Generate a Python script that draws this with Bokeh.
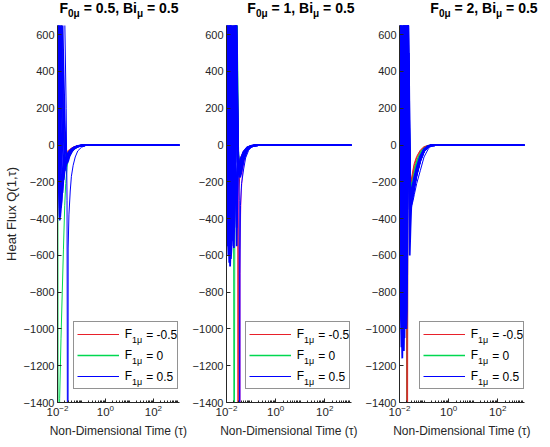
from bokeh.plotting import figure
from bokeh.layouts import row, column
from bokeh.models import (Range1d, FixedTicker, Label, Div, Spacer, Legend, LegendItem, BoxAnnotation)
from bokeh.embed import file_html
from bokeh.resources import INLINE

# ---------------- data ----------------
X_RANGE = (0.01, 1230)
Y_RANGE = (-1400, 650)
Y_TICKS = [-1400, -1200, -1000, -800, -600, -400, -200, 0, 200, 400, 600]
X_TICKS = [0.01, 1, 100]
F0_VALUES = ["0.5", "1", "2"]
BI_VALUE = "0.5"
F1_LABELS = ["-0.5", "0", "0.5"]

# ---- panel 1 : F0 = 0.5
P1_X = [0.01, 0.011, 0.012, 0.0125, 0.013, 0.014, 0.015, 0.016, 0.018, 0.02, 0.022, 0.025,
        0.028, 0.032, 0.04, 0.05, 0.07, 0.1, 0.15, 0.2, 0.3, 1, 1230]
P1_BLUE = [
    [800, -150, -380, -410, -360, -280, -220, -175, -120, -90, -70, -52, -42, -32, -20, -12, -5, -2, -0.6, -0.2, 0, 0, 0],
    [1400, 200, -250, -340, -390, -330, -260, -200, -135, -100, -78, -58, -46, -35, -22, -13, -5.5, -2.2, -0.7, -0.2, 0, 0, 0],
    [2000, 600, 50, -100, -230, -340, -300, -240, -150, -110, -85, -63, -50, -38, -23, -14, -6, -2.4, -0.7, -0.2, 0, 0, 0],
    [2600, 1000, 400, 200, 50, -150, -250, -260, -170, -120, -92, -68, -54, -40, -25, -15, -6.5, -2.6, -0.8, -0.2, 0, 0, 0],
    [3200, 1500, 800, 550, 350, 80, -80, -170, -190, -135, -100, -73, -57, -43, -26, -16, -7, -2.8, -0.8, -0.2, 0, 0, 0],
    [3800, 2000, 1200, 950, 750, 420, 200, 40, -130, -140, -110, -80, -62, -46, -28, -17, -7.5, -3, -0.9, -0.3, 0, 0, 0],
    [4400, 2600, 1700, 1400, 1150, 800, 550, 350, 60, -80, -115, -90, -70, -50, -30, -18, -8, -3.2, -0.9, -0.3, 0, 0, 0],
    [5000, 3200, 2300, 1900, 1600, 1200, 900, 700, 380, 130, -30, -100, -85, -60, -35, -20, -9, -3.5, -1, -0.3, 0, 0, 0],
]
P1_RED = [
    [4500, 2800, 1900, 1600, 1350, 950, 650, 450, 150, 10, -25, -35, -30, -24, -15, -9, -4, -1.5, -0.5, -0.1, 0, 0, 0],
    [3500, 2200, 1500, 1250, 1050, 700, 450, 280, 50, -30, -45, -42, -35, -27, -17, -10, -4.5, -1.7, -0.5, -0.1, 0, 0, 0],
]
P1_GREEN = [
    [4000, 2400, 1600, 1300, 1100, 750, 500, 300, 60, -40, -60, -65, -58, -46, -30, -18, -8, -3.2, -1, -0.3, 0, 0, 0],
]
P1_GREEN_DEEP_X = [0.01, 0.0103, 0.0107, 0.011, 0.0123, 0.014, 0.0158, 0.0177, 0.02, 0.022, 0.025, 0.028,
                   0.032, 0.04, 0.05, 0.07, 0.1, 0.15, 0.2, 0.3, 1230]
P1_GREEN_DEEP_Y = [1500, 200, -2500, -2300, -1380, -1050, -800, -566, -330, -210, -120, -80,
                   -60, -38, -24, -10, -4, -1, -0.3, 0, 0]
P1_BLUE_DEEP_X = [0.01, 0.015, 0.02, 0.023, 0.025, 0.0265, 0.0272, 0.0278, 0.03, 0.034, 0.038, 0.045,
                  0.055, 0.07, 0.1, 0.15, 0.2, 0.3, 1230]
P1_BLUE_DEEP_Y = [6000, 2000, 700, 200, -300, -2500, -3000, -560, -380, -250, -170, -110,
                  -65, -32, -12, -3, -1, 0, 0]

# ---- panel 2 : F0 = 1
P2_X = [0.01, 0.011, 0.012, 0.013, 0.014, 0.015, 0.016, 0.018, 0.02, 0.022, 0.024, 0.026,
        0.028, 0.03, 0.033, 0.036, 0.04, 0.05, 0.07, 0.1, 0.15, 0.2, 0.3, 1230]
P2_BLUE = [
    [1200, -450, -600, -300, 300, 900, 1300, 1500, 1200, 800, 450, 120, -90, -110, -100, -85, -65, -35, -13, -4.5, -1.2, -0.3, 0, 0],
    [2000, 300, -450, -640, -500, 100, 700, 1300, 1300, 900, 550, 180, -60, -120, -115, -95, -72, -38, -14, -5, -1.3, -0.3, 0, 0],
    [2800, 1000, 100, -400, -660, -520, -100, 800, 1200, 1000, 650, 250, -20, -130, -125, -105, -80, -42, -15, -5, -1.4, -0.3, 0, 0],
    [3500, 1800, 700, 100, -350, -620, -560, 200, 1000, 1050, 750, 320, 20, -140, -140, -115, -88, -46, -17, -6, -1.5, -0.4, 0, 0],
    [4200, 2500, 1400, 700, 150, -300, -550, -450, 500, 1000, 850, 400, 60, -120, -150, -125, -95, -50, -18, -6, -1.6, -0.4, 0, 0],
    [5000, 3200, 2000, 1300, 700, 200, -150, -520, -300, 600, 900, 500, 150, -90, -150, -135, -100, -53, -19, -6.5, -1.7, -0.4, 0, 0],
    [900, -550, -200, 500, 1100, 1500, 1600, 1500, 1300, 1000, 700, 350, 80, -100, -145, -130, -100, -52, -19, -6.5, -1.7, -0.4, 0, 0],
    [6000, 4000, 2800, 2000, 1400, 800, 400, -200, -560, -100, 800, 600, 250, -40, -170, -175, -150, -80, -28, -9, -2.3, -0.6, 0, 0],
    [5500, 3600, 2400, 1700, 1100, 600, 200, -100, 300, 900, -200, -550, -200, -60, -160, -165, -140, -75, -26, -8.5, -2.2, -0.5, 0, 0],
    [700, 100, 900, 1500, 1200, 400, -300, -500, -200, 300, -300, -450, -150, -70, -150, -155, -130, -70, -24, -8, -2, -0.5, 0, 0],
]
P2_RED = [
    [4000, 2600, 1800, 1300, 900, 600, 400, 600, 1000, 1100, 950, 700, 300, -40, -80, -75, -60, -32, -12, -4, -1, -0.3, 0, 0],
]
P2_GREEN = [
    [3600, 2300, 1500, 1000, 600, 300, 150, 500, 950, 1150, 1050, 850, 450, -20, -100, -90, -72, -38, -14, -4.5, -1.2, -0.3, 0, 0],
]
P2_GREEN_DEEP_X = [0.01, 0.014, 0.017, 0.019, 0.02, 0.0205, 0.021, 0.0225, 0.025, 0.0275, 0.03, 0.033,
                   0.04, 0.05, 0.07, 0.1, 0.15, 0.2, 0.3, 1230]
P2_GREEN_DEEP_Y = [3000, 1800, 1000, 400, -1500, -3000, -1500, 400, 900, 650, -80, -120,
                   -95, -52, -19, -6.5, -1.7, -0.4, 0, 0]
P2_RED_DEEP_X = [0.01, 0.016, 0.02, 0.024, 0.027, 0.0288, 0.0294, 0.0299, 0.0305, 0.032, 0.035, 0.04,
                 0.05, 0.07, 0.1, 0.15, 0.2, 0.3, 1230]
P2_RED_DEEP_Y = [5000, 2500, 1300, 800, 400, -500, -3000, -2500, -500, -250, -160, -100,
                 -50, -18, -6, -1.5, -0.4, 0, 0]
P2_MAGENTA_X = [0.01, 0.016, 0.02, 0.024, 0.027, 0.03, 0.0335, 0.0352, 0.036, 0.0375, 0.04, 0.045,
                0.05, 0.06, 0.08, 0.1, 0.15, 0.2, 0.3, 1230]
P2_MAGENTA_Y = [5500, 2800, 1400, 800, 250, -100, -700, -1800, -566, -380, -250, -150,
                -100, -55, -22, -10, -2.5, -0.7, 0, 0]
P2_BLUE_DEEP_X = [0.01, 0.016, 0.02, 0.024, 0.028, 0.031, 0.033, 0.034, 0.0345, 0.0352, 0.037, 0.041,
                  0.05, 0.06, 0.08, 0.1, 0.15, 0.2, 0.3, 1230]
P2_BLUE_DEEP_Y = [6000, 3000, 1500, 900, 300, -50, -300, -2500, -3000, -700, -330, -210,
                  -130, -70, -28, -13, -3, -0.8, 0, 0]

# ---- panel 3 : F0 = 2
P3_X = [0.01, 0.011, 0.012, 0.013, 0.014, 0.015, 0.016, 0.017, 0.018, 0.019, 0.02, 0.022, 0.024,
        0.026, 0.028, 0.03, 0.033, 0.036, 0.04, 0.05, 0.07, 0.1, 0.15, 0.2, 0.3, 1230]
P3_BLUE = [
    [1000, -800, -1100, -600, 300, 1200, 1600, 1700, 1500, 1200, 900, 400, 0, -200, -250, -250, -230, -205, -175, -120, -60, -22, -5, -1.2, -0.1, 0],
    [1800, 0, -900, -1160, -700, 200, 1000, 1500, 1600, 1400, 1100, 500, 80, -180, -260, -265, -245, -220, -185, -128, -65, -24, -5.5, -1.3, -0.1, 0],
    [2600, 900, -200, -800, -1100, -900, -100, 800, 1300, 1400, 1200, 600, 150, -160, -265, -275, -255, -230, -195, -135, -70, -26, -6, -1.4, -0.1, 0],
    [3400, 1700, 500, -200, -700, -1000, -1050, -500, 400, 1000, 1200, 700, 220, -140, -270, -285, -265, -240, -205, -142, -74, -28, -6.5, -1.5, -0.1, 0],
    [4200, 2500, 1300, 500, -100, -600, -900, -1000, -700, 100, 800, 750, 280, -120, -280, -295, -275, -250, -215, -150, -80, -30, -7, -1.6, -0.1, 0],
    [800, 400, 1500, 1900, 2000, 1700, 1200, 600, 0, -500, -600, 200, 400, -50, -290, -300, -280, -255, -220, -155, -82, -31, -7.5, -1.7, -0.1, 0],
    [6000, 4000, 2800, 2000, 1300, 700, 200, -300, -700, -1000, -900, -100, 500, 0, -280, -300, -280, -255, -220, -155, -82, -31, -7.5, -1.7, -0.1, 0],
    [5500, 3600, 2400, 1600, 1000, 500, 0, -400, -800, -700, -100, 900, 300, -600, -450, -340, -300, -270, -235, -165, -88, -33, -8, -1.8, -0.1, 0],
    [300, -500, -950, -1000, -850, -300, 500, 1300, 1700, 1500, 1000, 300, -200, -350, -330, -300, -280, -255, -220, -155, -82, -31, -7.5, -1.7, -0.1, 0],
    [2200, 1200, 300, -300, -900, -1120, -800, -200, 600, 1300, 1300, 800, 350, -250, -320, -310, -285, -260, -225, -158, -84, -32, -7.7, -1.7, -0.1, 0],
]
P3_BLUE_OUTER = [5000, 3300, 2100, 1200, 600, 0, -400, -750, -950, -850, -300, 700, 330, -100, -300, -330, -320, -300, -270, -210, -140, -65, -20, -5, -0.5, 0]
P3_RED = [
    [4500, 3000, 2000, 1400, 900, 500, 200, 600, 1000, 1200, 1100, 700, 250, -80, -200, -190, -160, -130, -100, -62, -28, -9, -2, -0.5, 0, 0],
]
P3_GREEN = [
    [4000, 2600, 1700, 1100, 700, 300, 100, 500, 900, 1100, 1050, 750, 300, -60, -220, -225, -195, -165, -135, -90, -42, -14, -3, -0.7, 0, 0],
    [400, -750, -400, 300, 1000, 1400, 1500, 1400, 1200, 1000, 900, 750, 350, -40, -210, -215, -190, -160, -130, -88, -40, -13, -3, -0.7, 0, 0],
]
P3_MAGENTA = [5000, 3500, 2300, 1500, 900, 400, -100, -500, -850, -700, 0, 800, 350, -100, -250, -260, -240, -215, -180, -125, -64, -24, -5.5, -1.3, -0.1, 0]
P3_GREEN_DEEP_X = [0.01, 0.014, 0.017, 0.0188, 0.0195, 0.0201, 0.0208, 0.0215, 0.023, 0.026, 0.028, 0.03,
                   0.033, 0.04, 0.05, 0.07, 0.1, 0.15, 0.2, 0.3, 1230]
P3_GREEN_DEEP_Y = [3500, 2000, 1000, 700, -1500, -3200, -2000, -400, 200, -150, -230, -235,
                   -210, -150, -100, -46, -15, -3.5, -0.8, 0, 0]
P3_RED_DEEP_X = [0.01, 0.014, 0.017, 0.019, 0.0198, 0.0204, 0.0211, 0.0218, 0.023, 0.026, 0.028, 0.03,
                 0.033, 0.04, 0.05, 0.07, 0.1, 0.15, 0.2, 0.3, 1230]
P3_RED_DEEP_Y = [3800, 2200, 1100, 750, -1500, -3100, -2000, -400, 250, -120, -205, -200,
                 -175, -110, -70, -30, -10, -2.5, -0.6, 0, 0]

# ---------------- styling ----------------
FONT = "Liberation Sans"
INK = "#262626"
RED = "#e8202a"
GREEN = "#00d850"
BLUE = "#0000ff"
MAGENTA = "#ff40c8"
FRAME_W, FRAME_H = 130, 377
TITLE_H = 15
BORDER_BOTTOM = 39
FIG_H = FRAME_H + BORDER_BOTTOM
BORDERS = [(49, 10), (32, 11), (32, 8)]   # (left, right) per panel


def make_panel(X, blue, red, green, magenta, before, after, border, ylabel, legend_left):
    bl, br = border
    p = figure(x_axis_type="log", output_backend="svg", toolbar_location=None,
               width=bl + FRAME_W + br, height=FIG_H,
               min_border_left=bl, min_border_right=br,
               min_border_top=0, min_border_bottom=BORDER_BOTTOM,
               x_range=Range1d(*X_RANGE), y_range=Range1d(*Y_RANGE),
               background_fill_color="white", border_fill_color="white")
    p.outline_line_color = None
    p.grid.visible = False

    red_r = [p.line(X, ys, line_color=RED, line_width=1) for ys in red]
    green_r = [p.line(X, ys, line_color=GREEN, line_width=1.3) for ys in green]
    for ys in magenta:
        p.line(X, ys, line_color=MAGENTA, line_width=1)
    for xs, ys, c in before:
        p.line(xs, ys, line_color=c, line_width=1)
    for ys in blue:
        p.line(X, ys, line_color=BLUE, line_width=1.8)
    blue_r = [p.line(xs, ys, line_color=c, line_width=1) for xs, ys, c in after]

    minor = []
    for d in range(-2, 4):
        for m in range(2, 10):
            minor.append(m * 10.0 ** d)
    minor += [0.1, 10, 1000]
    p.xaxis.ticker = FixedTicker(ticks=X_TICKS, minor_ticks=sorted(minor))
    p.yaxis.ticker = FixedTicker(ticks=Y_TICKS)
    for ax in (p.xaxis[0], p.yaxis[0]):
        ax.axis_line_color = INK
        ax.major_tick_line_color = INK
        ax.minor_tick_line_color = INK
        ax.major_tick_in = 4
        ax.major_tick_out = 0
        ax.minor_tick_in = 2
        ax.minor_tick_out = 0
        ax.major_label_text_font = FONT
        ax.major_label_text_font_size = "11px"
        ax.major_label_text_color = INK
        ax.major_label_standoff = 3
        ax.axis_label_text_font = FONT
        ax.axis_label_text_font_style = "normal"
        ax.axis_label_text_color = INK
    p.xaxis.major_label_text_font_size = "11.5px"
    p.xaxis.major_label_standoff = 2
    p.yaxis.minor_tick_line_color = None
    p.xaxis.axis_label = "Non-Dimensional Time (τ)"
    p.xaxis.axis_label_text_font_size = "12px"
    p.xaxis.axis_label_standoff = 5
    if ylabel:
        p.yaxis.axis_label = "Heat Flux Q(1,τ)"
        p.yaxis.axis_label_text_font_size = "13px"
        p.yaxis.axis_label_standoff = 2

    # ---- legend: white box, then a transparent Bokeh legend, then the subscripted label parts
    L, B = legend_left, 13.3
    p.add_layout(BoxAnnotation(left=L, right=L + 109, bottom=B, top=B + 66,
                               left_units="screen", right_units="screen",
                               top_units="screen", bottom_units="screen",
                               fill_color="white", fill_alpha=1.0, line_color=None,
                               level="underlay"))
    items = [LegendItem(label="F", renderers=[r[0]]) for r in (red_r, green_r, blue_r)]
    leg = Legend(items=items, location=(L, B), orientation="vertical",
                 glyph_width=42, glyph_height=18, label_height=18, label_width=49,
                 label_standoff=6, padding=3, spacing=3, margin=0,
                 label_text_font=FONT, label_text_font_size="12px", label_text_color="black",
                 border_line_color=INK, border_line_width=0.8,
                 background_fill_alpha=0.0)
    p.add_layout(leg, "center")
    rows_y = [B + 3 + 18 * 2.5 + 3 * 2, B + 3 + 18 * 1.5 + 3, B + 3 + 18 * 0.5]
    for lab, ry in zip(F1_LABELS, rows_y):
        p.add_layout(Label(x=L + 58.8, y=ry - 5, x_units="screen", y_units="screen", text="1μ",
                           text_font=FONT, text_font_size="9px", text_color="black",
                           text_baseline="middle", text_align="left"))
        p.add_layout(Label(x=L + 73, y=ry, x_units="screen", y_units="screen", text="= " + lab,
                           text_font=FONT, text_font_size="12px", text_color="black",
                           text_baseline="middle", text_align="left"))
    return p


def title_div(f0):
    html = ("<div style='position:relative; top:-5px'><b>F<sub style='font-size:10px'>0μ</sub> = %s, "
            "Bi<sub style='font-size:10px'>μ</sub> = %s</b></div>" % (f0, BI_VALUE))
    return Div(text=html, width=FRAME_W, height=TITLE_H,
               styles={"font-family": FONT, "font-size": "14px", "color": "black",
                       "text-align": "center", "line-height": "16px", "white-space": "nowrap",
                       "overflow": "visible"})


p1 = make_panel(P1_X, P1_BLUE, P1_RED, P1_GREEN, [],
                [(P1_GREEN_DEEP_X, P1_GREEN_DEEP_Y, GREEN)],
                [(P1_BLUE_DEEP_X, P1_BLUE_DEEP_Y, BLUE)],
                BORDERS[0], True, 15.7)
p2 = make_panel(P2_X, P2_BLUE, P2_RED, P2_GREEN, [],
                [(P2_GREEN_DEEP_X, P2_GREEN_DEEP_Y, GREEN), (P2_RED_DEEP_X, P2_RED_DEEP_Y, RED),
                 (P2_MAGENTA_X, P2_MAGENTA_Y, MAGENTA)],
                [(P2_BLUE_DEEP_X, P2_BLUE_DEEP_Y, BLUE)],
                BORDERS[1], False, 18.7)
p3 = make_panel(P3_X, P3_BLUE, P3_RED, P3_GREEN, [P3_MAGENTA],
                [(P3_GREEN_DEEP_X, P3_GREEN_DEEP_Y, GREEN), (P3_RED_DEEP_X, P3_RED_DEEP_Y, RED)],
                [(P3_X, P3_BLUE_OUTER, BLUE)],
                BORDERS[2], False, 19.7)

titles = row(
    Spacer(width=BORDERS[0][0], height=TITLE_H), title_div(F0_VALUES[0]),
    Spacer(width=BORDERS[0][1] + BORDERS[1][0], height=TITLE_H), title_div(F0_VALUES[1]),
    Spacer(width=BORDERS[1][1] + BORDERS[2][0], height=TITLE_H), title_div(F0_VALUES[2]),
    Spacer(width=BORDERS[2][1], height=TITLE_H),
)
layout = column(titles, row(p1, p2, p3))
open("out.html", "w").write(file_html(layout, INLINE))
